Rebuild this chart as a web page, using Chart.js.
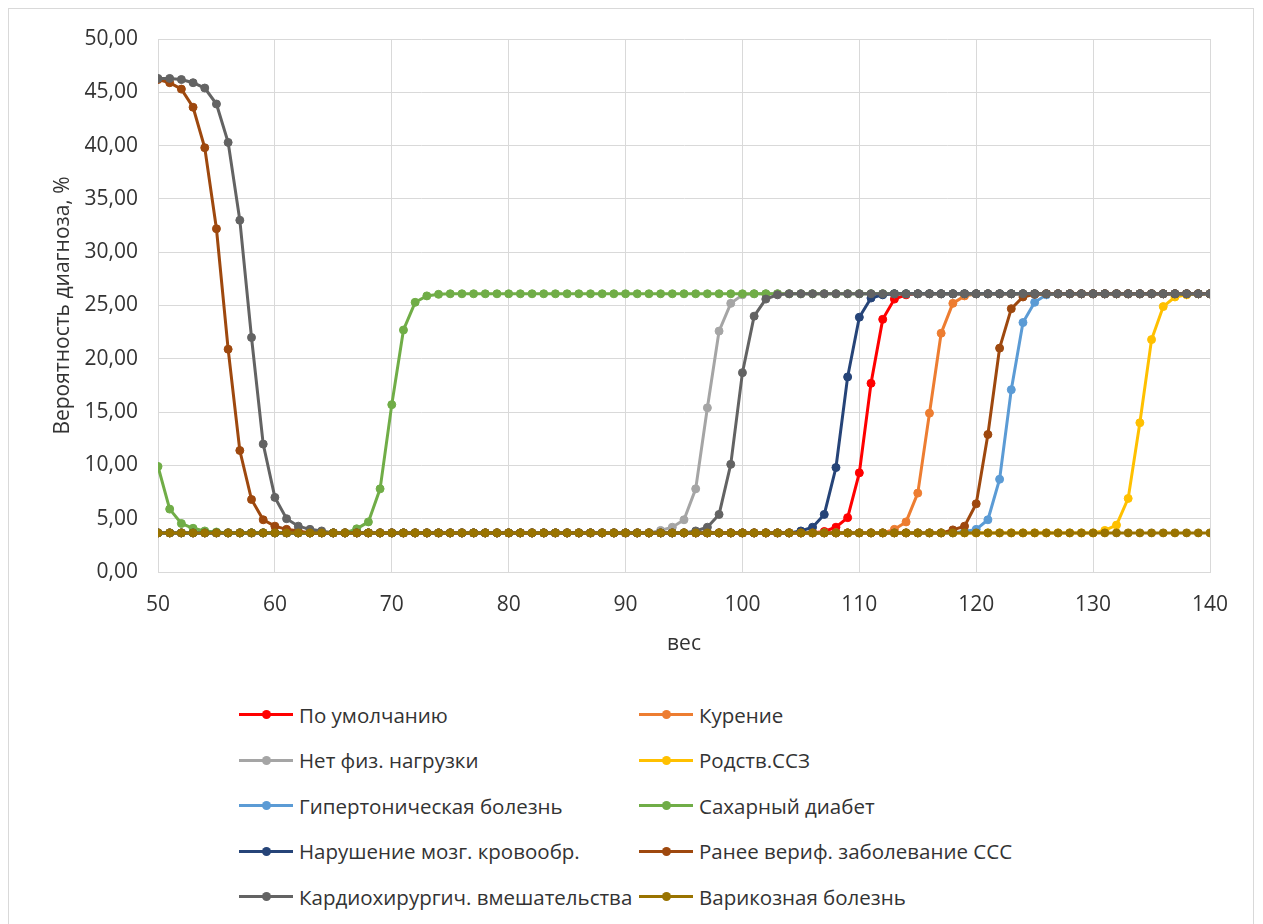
<!DOCTYPE html>
<html lang="ru">
<head>
<meta charset="utf-8">
<title>Вероятность диагноза</title>
<script src="https://cdn.jsdelivr.net/npm/chart.js@4.4.1/dist/chart.umd.min.js"></script>
<style>
  html, body { margin: 0; padding: 0; background: #fff; }
  body { width: 1263px; height: 924px; position: relative; overflow: hidden; font-family: "Open Sans", sans-serif; }
  #frame { position: absolute; left: 8px; top: 8px; width: 1246px; height: 940px; border: 1px solid #d9d9d9; box-sizing: border-box; }
  #chart { position: absolute; left: 0; top: 0; }
  #legend {
    position: absolute; left: 239px; top: 692px;
    display: grid; grid-template-columns: 400px 400px; grid-auto-rows: 45.5px;
  }
  .item { display: flex; align-items: center; font-size: 20.5px; color: #333; white-space: nowrap; }
  .swatch { position: relative; width: 54px; height: 3px; margin-right: 6px; flex: none; }
  .swatch i { position: absolute; left: 23px; top: -3px; width: 9px; height: 9px; border-radius: 50%; }
</style>
</head>
<body>
<div id="frame"></div>
<canvas id="chart" width="1263" height="680"></canvas>
<div id="legend"></div>
<script>
// ===== DATA =====
const weights = [
  50, 51, 52, 53, 54, 55, 56, 57, 58, 59,
  60, 61, 62, 63, 64, 65, 66, 67, 68, 69,
  70, 71, 72, 73, 74, 75, 76, 77, 78, 79,
  80, 81, 82, 83, 84, 85, 86, 87, 88, 89,
  90, 91, 92, 93, 94, 95, 96, 97, 98, 99,
  100, 101, 102, 103, 104, 105, 106, 107, 108, 109,
  110, 111, 112, 113, 114, 115, 116, 117, 118, 119,
  120, 121, 122, 123, 124, 125, 126, 127, 128, 129,
  130, 131, 132, 133, 134, 135, 136, 137, 138, 139,
  140
];

const seriesNames = [
  'По умолчанию', 'Курение',
  'Нет физ. нагрузки', 'Родств.ССЗ',
  'Гипертоническая болезнь', 'Сахарный диабет',
  'Нарушение мозг. кровообр.', 'Ранее вериф. заболевание ССС',
  'Кардиохирургич. вмешательства', 'Варикозная болезнь'
];

const seriesColors = [
  '#ff0000', '#ed7d31',
  '#a5a5a5', '#ffc000',
  '#5b9bd5', '#70ad47',
  '#264478', '#9e480e',
  '#636363', '#997300'
];

const byDefault = [
  3.67, 3.67, 3.67, 3.67, 3.67, 3.67, 3.67, 3.67, 3.67, 3.67,
  3.67, 3.67, 3.67, 3.67, 3.67, 3.67, 3.67, 3.67, 3.67, 3.67,
  3.67, 3.67, 3.67, 3.67, 3.67, 3.67, 3.67, 3.67, 3.67, 3.67,
  3.67, 3.67, 3.67, 3.67, 3.67, 3.67, 3.67, 3.67, 3.67, 3.67,
  3.67, 3.67, 3.67, 3.67, 3.67, 3.67, 3.67, 3.67, 3.67, 3.67,
  3.67, 3.67, 3.67, 3.67, 3.67, 3.67, 3.67, 3.8, 4.2, 5.1,
  9.3, 17.7, 23.7, 25.6, 26.0, 26.1, 26.1, 26.1, 26.1, 26.1,
  26.1, 26.1, 26.1, 26.1, 26.1, 26.1, 26.1, 26.1, 26.1, 26.1,
  26.1, 26.1, 26.1, 26.1, 26.1, 26.1, 26.1, 26.1, 26.1, 26.1,
  26.1
];

const smoking = [
  3.67, 3.67, 3.67, 3.67, 3.67, 3.67, 3.67, 3.67, 3.67, 3.67,
  3.67, 3.67, 3.67, 3.67, 3.67, 3.67, 3.67, 3.67, 3.67, 3.67,
  3.67, 3.67, 3.67, 3.67, 3.67, 3.67, 3.67, 3.67, 3.67, 3.67,
  3.67, 3.67, 3.67, 3.67, 3.67, 3.67, 3.67, 3.67, 3.67, 3.67,
  3.67, 3.67, 3.67, 3.67, 3.67, 3.67, 3.67, 3.67, 3.67, 3.67,
  3.67, 3.67, 3.67, 3.67, 3.67, 3.67, 3.67, 3.67, 3.67, 3.67,
  3.67, 3.67, 3.67, 4.0, 4.7, 7.4, 14.9, 22.4, 25.2, 25.9,
  26.1, 26.1, 26.1, 26.1, 26.1, 26.1, 26.1, 26.1, 26.1, 26.1,
  26.1, 26.1, 26.1, 26.1, 26.1, 26.1, 26.1, 26.1, 26.1, 26.1,
  26.1
];

const noActivity = [
  3.67, 3.67, 3.67, 3.67, 3.67, 3.67, 3.67, 3.67, 3.67, 3.67,
  3.67, 3.67, 3.67, 3.67, 3.67, 3.67, 3.67, 3.67, 3.67, 3.67,
  3.67, 3.67, 3.67, 3.67, 3.67, 3.67, 3.67, 3.67, 3.67, 3.67,
  3.67, 3.67, 3.67, 3.67, 3.67, 3.67, 3.67, 3.67, 3.67, 3.67,
  3.67, 3.67, 3.67, 3.9, 4.2, 4.9, 7.8, 15.4, 22.6, 25.2,
  26.0, 26.1, 26.1, 26.1, 26.1, 26.1, 26.1, 26.1, 26.1, 26.1,
  26.1, 26.1, 26.1, 26.1, 26.1, 26.1, 26.1, 26.1, 26.1, 26.1,
  26.1, 26.1, 26.1, 26.1, 26.1, 26.1, 26.1, 26.1, 26.1, 26.1,
  26.1, 26.1, 26.1, 26.1, 26.1, 26.1, 26.1, 26.1, 26.1, 26.1,
  26.1
];

const familyHistory = [
  3.67, 3.67, 3.67, 3.67, 3.67, 3.67, 3.67, 3.67, 3.67, 3.67,
  3.67, 3.67, 3.67, 3.67, 3.67, 3.67, 3.67, 3.67, 3.67, 3.67,
  3.67, 3.67, 3.67, 3.67, 3.67, 3.67, 3.67, 3.67, 3.67, 3.67,
  3.67, 3.67, 3.67, 3.67, 3.67, 3.67, 3.67, 3.67, 3.67, 3.67,
  3.67, 3.67, 3.67, 3.67, 3.67, 3.67, 3.67, 3.67, 3.67, 3.67,
  3.67, 3.67, 3.67, 3.67, 3.67, 3.67, 3.67, 3.67, 3.67, 3.67,
  3.67, 3.67, 3.67, 3.67, 3.67, 3.67, 3.67, 3.67, 3.67, 3.67,
  3.67, 3.67, 3.67, 3.67, 3.67, 3.67, 3.67, 3.67, 3.67, 3.67,
  3.67, 3.9, 4.4, 6.9, 14.0, 21.8, 24.9, 25.8, 26.0, 26.1,
  26.1
];

const hypertension = [
  3.67, 3.67, 3.67, 3.67, 3.67, 3.67, 3.67, 3.67, 3.67, 3.67,
  3.67, 3.67, 3.67, 3.67, 3.67, 3.67, 3.67, 3.67, 3.67, 3.67,
  3.67, 3.67, 3.67, 3.67, 3.67, 3.67, 3.67, 3.67, 3.67, 3.67,
  3.67, 3.67, 3.67, 3.67, 3.67, 3.67, 3.67, 3.67, 3.67, 3.67,
  3.67, 3.67, 3.67, 3.67, 3.67, 3.67, 3.67, 3.67, 3.67, 3.67,
  3.67, 3.67, 3.67, 3.67, 3.67, 3.67, 3.67, 3.67, 3.67, 3.67,
  3.67, 3.67, 3.67, 3.67, 3.67, 3.67, 3.67, 3.67, 3.67, 3.8,
  4.0, 4.9, 8.7, 17.1, 23.4, 25.3, 26.0, 26.1, 26.1, 26.1,
  26.1, 26.1, 26.1, 26.1, 26.1, 26.1, 26.1, 26.1, 26.1, 26.1,
  26.1
];

const diabetes = [
  9.9, 5.9, 4.55, 4.1, 3.85, 3.75, 3.67, 3.67, 3.67, 3.67,
  3.67, 3.67, 3.67, 3.67, 3.67, 3.67, 3.67, 4.05, 4.7, 7.8,
  15.7, 22.7, 25.3, 25.9, 26.05, 26.1, 26.1, 26.1, 26.1, 26.1,
  26.1, 26.1, 26.1, 26.1, 26.1, 26.1, 26.1, 26.1, 26.1, 26.1,
  26.1, 26.1, 26.1, 26.1, 26.1, 26.1, 26.1, 26.1, 26.1, 26.1,
  26.1, 26.1, 26.1, 26.1, 26.1, 26.1, 26.1, 26.1, 26.1, 26.1,
  26.1, 26.1, 26.1, 26.1, 26.1, 26.1, 26.1, 26.1, 26.1, 26.1,
  26.1, 26.1, 26.1, 26.1, 26.1, 26.1, 26.1, 26.1, 26.1, 26.1,
  26.1, 26.1, 26.1, 26.1, 26.1, 26.1, 26.1, 26.1, 26.1, 26.1,
  26.1
];

const stroke = [
  3.67, 3.67, 3.67, 3.67, 3.67, 3.67, 3.67, 3.67, 3.67, 3.67,
  3.67, 3.67, 3.67, 3.67, 3.67, 3.67, 3.67, 3.67, 3.67, 3.67,
  3.67, 3.67, 3.67, 3.67, 3.67, 3.67, 3.67, 3.67, 3.67, 3.67,
  3.67, 3.67, 3.67, 3.67, 3.67, 3.67, 3.67, 3.67, 3.67, 3.67,
  3.67, 3.67, 3.67, 3.67, 3.67, 3.67, 3.67, 3.67, 3.67, 3.67,
  3.67, 3.67, 3.67, 3.67, 3.67, 3.85, 4.2, 5.4, 9.8, 18.3,
  23.9, 25.7, 26.0, 26.1, 26.1, 26.1, 26.1, 26.1, 26.1, 26.1,
  26.1, 26.1, 26.1, 26.1, 26.1, 26.1, 26.1, 26.1, 26.1, 26.1,
  26.1, 26.1, 26.1, 26.1, 26.1, 26.1, 26.1, 26.1, 26.1, 26.1,
  26.1
];

const priorCvd = [
  46.2, 45.9, 45.3, 43.6, 39.8, 32.2, 20.9, 11.4, 6.8, 4.9,
  4.3, 4.0, 3.85, 3.67, 3.67, 3.67, 3.67, 3.67, 3.67, 3.67,
  3.67, 3.67, 3.67, 3.67, 3.67, 3.67, 3.67, 3.67, 3.67, 3.67,
  3.67, 3.67, 3.67, 3.67, 3.67, 3.67, 3.67, 3.67, 3.67, 3.67,
  3.67, 3.67, 3.67, 3.67, 3.67, 3.67, 3.67, 3.67, 3.67, 3.67,
  3.67, 3.67, 3.67, 3.67, 3.67, 3.67, 3.67, 3.67, 3.67, 3.67,
  3.67, 3.67, 3.67, 3.67, 3.67, 3.67, 3.67, 3.67, 3.95, 4.3,
  6.4, 12.9, 21.0, 24.7, 25.8, 26.05, 26.1, 26.1, 26.1, 26.1,
  26.1, 26.1, 26.1, 26.1, 26.1, 26.1, 26.1, 26.1, 26.1, 26.1,
  26.1
];

const heartSurgery = [
  46.3, 46.3, 46.2, 45.9, 45.4, 43.9, 40.3, 33.0, 22.0, 12.0,
  7.0, 5.0, 4.3, 4.0, 3.85, 3.67, 3.67, 3.67, 3.67, 3.67,
  3.67, 3.67, 3.67, 3.67, 3.67, 3.67, 3.67, 3.67, 3.67, 3.67,
  3.67, 3.67, 3.67, 3.67, 3.67, 3.67, 3.67, 3.67, 3.67, 3.67,
  3.67, 3.67, 3.67, 3.67, 3.67, 3.67, 3.85, 4.2, 5.4, 10.1,
  18.7, 24.0, 25.6, 26.0, 26.1, 26.1, 26.1, 26.1, 26.1, 26.1,
  26.1, 26.1, 26.1, 26.1, 26.1, 26.1, 26.1, 26.1, 26.1, 26.1,
  26.1, 26.1, 26.1, 26.1, 26.1, 26.1, 26.1, 26.1, 26.1, 26.1,
  26.1, 26.1, 26.1, 26.1, 26.1, 26.1, 26.1, 26.1, 26.1, 26.1,
  26.1
];

const varicose = [
  3.67, 3.67, 3.67, 3.67, 3.67, 3.67, 3.67, 3.67, 3.67, 3.67,
  3.67, 3.67, 3.67, 3.67, 3.67, 3.67, 3.67, 3.67, 3.67, 3.67,
  3.67, 3.67, 3.67, 3.67, 3.67, 3.67, 3.67, 3.67, 3.67, 3.67,
  3.67, 3.67, 3.67, 3.67, 3.67, 3.67, 3.67, 3.67, 3.67, 3.67,
  3.67, 3.67, 3.67, 3.67, 3.67, 3.67, 3.67, 3.67, 3.67, 3.67,
  3.67, 3.67, 3.67, 3.67, 3.67, 3.67, 3.67, 3.67, 3.67, 3.67,
  3.67, 3.67, 3.67, 3.67, 3.67, 3.67, 3.67, 3.67, 3.67, 3.67,
  3.67, 3.67, 3.67, 3.67, 3.67, 3.67, 3.67, 3.67, 3.67, 3.67,
  3.67, 3.67, 3.67, 3.67, 3.67, 3.67, 3.67, 3.67, 3.67, 3.67,
  3.67
];

const seriesValues = [
  byDefault, smoking, noActivity, familyHistory, hypertension,
  diabetes, stroke, priorCvd, heartSurgery, varicose
];

const yTicks = { min: 0, max: 50, step: 5 };
const xTicks = { min: 50, max: 140, step: 10 };

// ===== CHART =====
const GRID = '#d9d9d9';
const TEXT = '#333';
const FONT = '"Open Sans", sans-serif';

const datasets = seriesValues.map((vals, i) => ({
  label: seriesNames[i],
  data: vals.map((v, k) => ({ x: weights[k], y: v })),
  borderColor: seriesColors[i],
  backgroundColor: seriesColors[i],
  pointBackgroundColor: seriesColors[i],
  pointBorderColor: seriesColors[i],
  borderWidth: 3,
  pointRadius: 4,
  pointBorderWidth: 1,
  tension: 0,
  fill: false,
  // later series drawn on top, as in the original
  order: seriesValues.length - i,
}));

new Chart(document.getElementById('chart'), {
  type: 'line',
  data: { datasets },
  options: {
    responsive: false,
    animation: false,
    layout: { padding: { left: 46, right: 53, top: 39, bottom: 19 } },
    plugins: { legend: { display: false }, tooltip: { enabled: false } },
    scales: {
      x: {
        type: 'linear',
        min: xTicks.min, max: xTicks.max,
        afterFit: s => { s.height = 89; },
        grid: { color: GRID, drawTicks: false },
        border: { color: GRID },
        ticks: { stepSize: xTicks.step, padding: 20, color: TEXT, font: { family: FONT, size: 21 } },
        title: { display: true, text: 'вес', color: TEXT, font: { family: FONT, size: 21 } },
      },
      y: {
        min: yTicks.min, max: yTicks.max,
        afterFit: s => { s.width = 112; },
        grid: { color: GRID, drawTicks: false },
        border: { color: GRID },
        ticks: {
          stepSize: yTicks.step, padding: 20, color: TEXT, font: { family: FONT, size: 21 },
          callback: v => v.toFixed(2).replace('.', ','),
        },
        title: { display: true, text: 'Вероятность диагноза, %', color: TEXT, font: { family: FONT, size: 21 } },
      },
    },
  },
});

// ===== LEGEND =====
const legend = document.getElementById('legend');
seriesNames.forEach((name, i) => {
  const item = document.createElement('div');
  item.className = 'item';
  const sw = document.createElement('span');
  sw.className = 'swatch';
  sw.style.background = seriesColors[i];
  const dot = document.createElement('i');
  dot.style.background = seriesColors[i];
  sw.appendChild(dot);
  const txt = document.createElement('span');
  txt.textContent = name;
  item.appendChild(sw);
  item.appendChild(txt);
  legend.appendChild(item);
});
</script>
</body>
</html>
